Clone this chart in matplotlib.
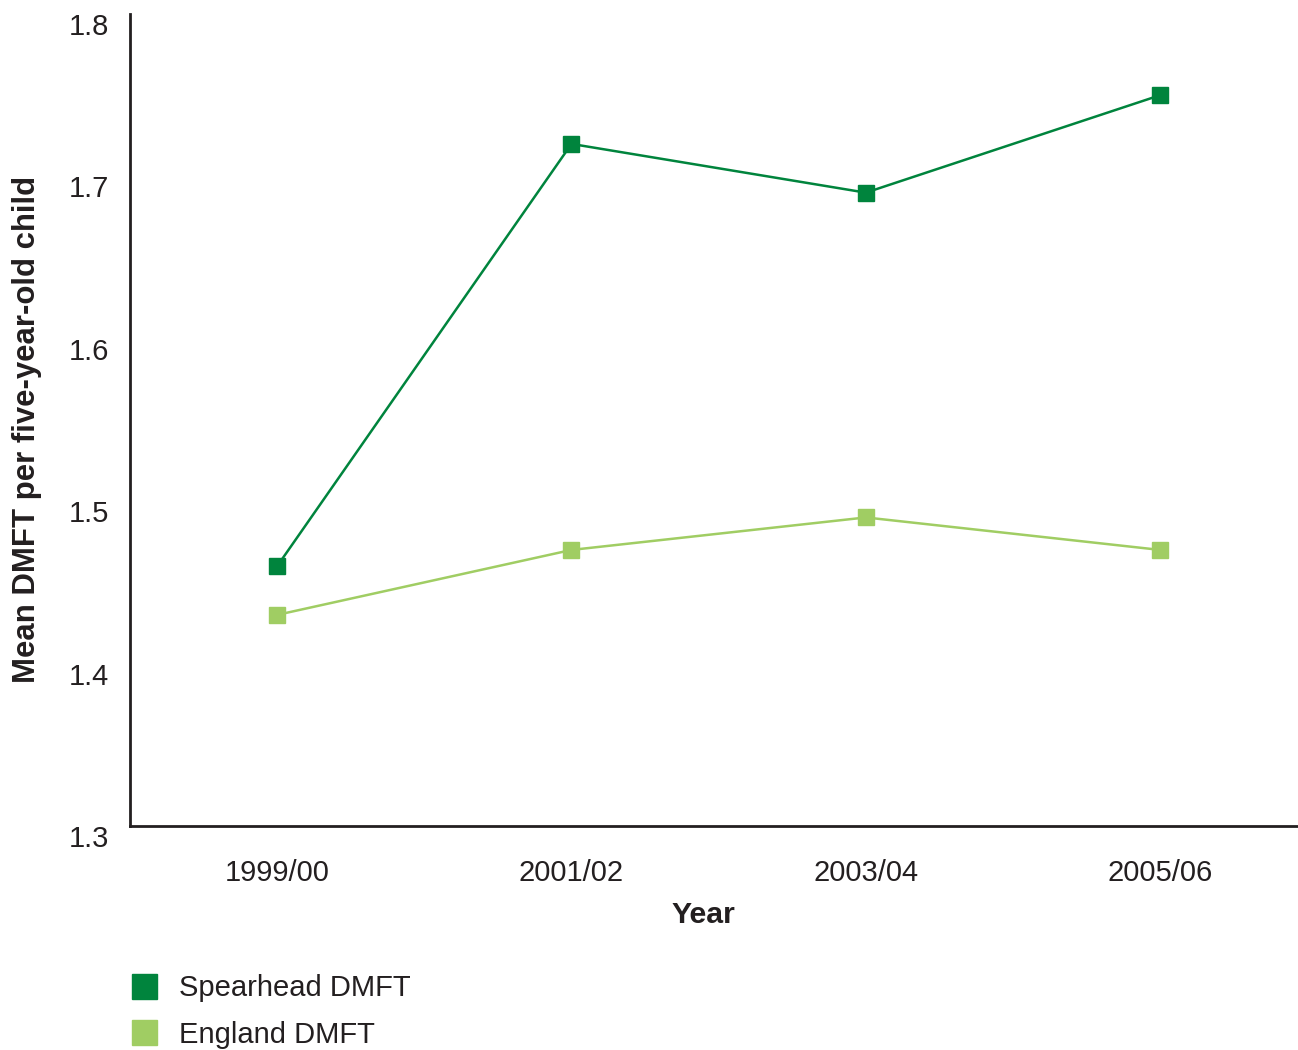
import matplotlib
matplotlib.use("Agg")
import matplotlib.pyplot as plt
from matplotlib.lines import Line2D
import matplotlib.transforms as mtransforms

plt.rcParams['font.family'] = ['Liberation Sans', 'DejaVu Sans']

years = ["1999/00", "2001/02", "2003/04", "2005/06"]
spearhead = [1.46, 1.72, 1.69, 1.75]
england = [1.43, 1.47, 1.49, 1.47]
yticks = [1.3, 1.4, 1.5, 1.6, 1.7, 1.8]

dark = "#00843D"
light = "#A0CD63"
txt = "#231F20"

W, H = 1298, 1050
fig = plt.figure(figsize=(W / 100, H / 100), dpi=100)
ax = fig.add_axes([130 / W, 1 - 826 / H, (1297 - 130) / W, (826 - 14) / H])

x = list(range(len(years)))
ax.plot(x, spearhead, color=dark, lw=1.8, marker='s', markersize=12, zorder=3)
ax.plot(x, england, color=light, lw=1.8, marker='s', markersize=12, zorder=3)

ax.set_xlim(-0.5, 3.465)
ax.set_ylim(1.3, 1.8)
ax.set_yticks(yticks)
ax.set_yticklabels([f"{v:.1f}" for v in yticks])
ax.set_xticks(x)
ax.set_xticklabels(years)

for s in ['top', 'right']:
    ax.spines[s].set_visible(False)
for s in ['left', 'bottom']:
    ax.spines[s].set_color(txt)
    ax.spines[s].set_linewidth(2)

ax.tick_params(axis='both', length=0, labelsize=21, colors=txt)
ax.tick_params(axis='y', pad=15)
ax.tick_params(axis='x', pad=24)
off = mtransforms.ScaledTranslation(0, -10 / 100, fig.dpi_scale_trans)
for lab in ax.get_yticklabels():
    lab.set_transform(lab.get_transform() + off)

fig.text(27 / W, 1 - 429 / H, "Mean DMFT per five-year-old child", rotation=90,
         ha='center', va='center', fontsize=22.4, fontweight='bold', color=txt)
fig.text(703 / W, 1 - 915 / H, "Year", ha='center', va='center',
         fontsize=21.8, fontweight='bold', color=txt)

handles = [Line2D([], [], color=dark, marker='s', markersize=18, linestyle='None'),
           Line2D([], [], color=light, marker='s', markersize=18, linestyle='None')]
leg = fig.legend(handles, ["Spearhead DMFT", "England DMFT"], loc='upper left',
                 bbox_to_anchor=(129 / W, 1 - 974 / H), frameon=False,
                 fontsize=21, handlelength=1.0, handletextpad=0.71,
                 labelspacing=0.64, borderpad=0, borderaxespad=0)
for t in leg.get_texts():
    t.set_color(txt)

fig.savefig("out.png", dpi=100)
